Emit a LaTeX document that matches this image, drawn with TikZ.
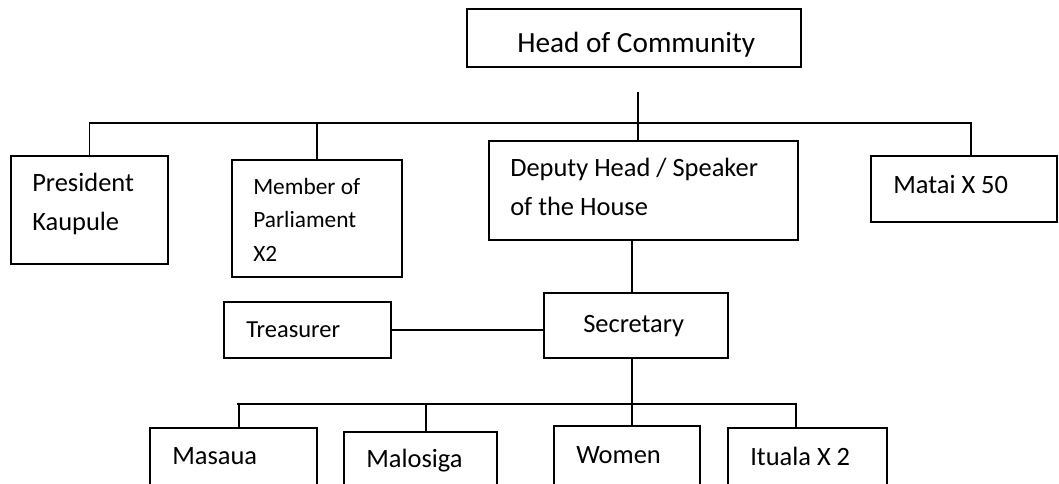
\documentclass[tikz,border=0pt]{standalone}
\usepackage{fontspec}
\setmainfont{Carlito}
\usetikzlibrary{fit}
\tikzset{
  unit/.style={draw=black,line width=1.4pt,inner sep=0pt,fill=white},
  role/.style={anchor=base west,inner sep=0pt,align=left,text=black,font=\fontsize{18.8}{27.4}\selectfont},
  smallrole/.style={role,font=\fontsize{16.6}{23.8}\selectfont},
  bigrole/.style={role,font=\fontsize{20.8}{25}\selectfont},
  link/.style={line width=1.4pt,draw=black}
}

\begin{document}
\begin{tikzpicture}[x=0.025cm,y=-0.025cm]
  \useasboundingbox (0,0) rectangle (1059,483);
  \clip (0,0) rectangle (1059,483);
  % boxes
  \node[unit,fit={(467,9) (801,67)}] (head) {};
  \node[unit,fit={(11,156) (168,264)}] (pres) {};
  \node[unit,fit={(232,160) (402,277)}] (mp) {};
  \node[unit,fit={(489,141) (798,240)}] (dep) {};
  \node[unit,fit={(871,156) (1057,222)}] (matai) {};
  \node[unit,fit={(224,302) (391,358)}] (treas) {};
  \node[unit,fit={(544,293) (728,358)}] (sec) {};
  \node[unit,fit={(150,428) (317,520)}] (masaua) {};
  \node[unit,fit={(344,432) (497,520)}] (malosiga) {};
  \node[unit,fit={(554,426) (700,520)}] (women) {};
  \node[unit,fit={(728,428) (887,520)}] (ituala) {};
  % texts (base = last line)
  \node[bigrole] (headtxt) at (517,52) {Head of Community};
  \node[role] (prestxt) at (32,230) {President\\Kaupule};
  \node[smallrole] (mptxt) at (253,261) {Member of\\Parliament\\X2};
  \node[role] (deptxt) at (510,215) {Deputy Head / Speaker\\of the House};
  \node[role] (mataitxt) at (893,193) {Matai X 50};
  \node[role,font=\fontsize{17.4}{22}\selectfont] (treastxt) at (246,337) {Treasurer};
  \node[role] (sectxt) at (583,332) {Secretary};
  \node[role] (masauatxt) at (172,464) {Masaua};
  \node[role] (malosigatxt) at (366,467) {Malosiga};
  \node[role] (womentxt) at (576,463) {Women};
  \node[role] (itualatxt) at (750,465) {Ituala X 2};
  % connectors
  \coordinate (hd) at (638,92);
  \coordinate (upbar) at (638,123);
  \coordinate (upR) at (971,123);
  \coordinate (lowbar) at (632,404);
  \coordinate (lowL) at (237,404);
  \coordinate (tMas) at (239,404);
  \coordinate (tMal) at (426,404);
  \coordinate (lowR) at (796,404);
  \draw[link] (hd) -- (hd |- dep.north);
  \draw[link] (pres.north) |- (upR) -- (upR |- matai.north);
  \draw[link] (mp.north) -- (mp.north |- upbar);
  \draw[link] (dep.south -| lowbar) -- (sec.north -| lowbar);
  \draw[link] (treas.east) -- (treas.east -| sec.west);
  \draw[link] (sec.south -| lowbar) -- (women.north -| lowbar);
  \draw[link] (lowL) -- (lowR) -- (lowR |- ituala.north);
  \draw[link] (tMas) -- (tMas |- masaua.north);
  \draw[link] (tMal) -- (tMal |- malosiga.north);
\end{tikzpicture}
\end{document}
